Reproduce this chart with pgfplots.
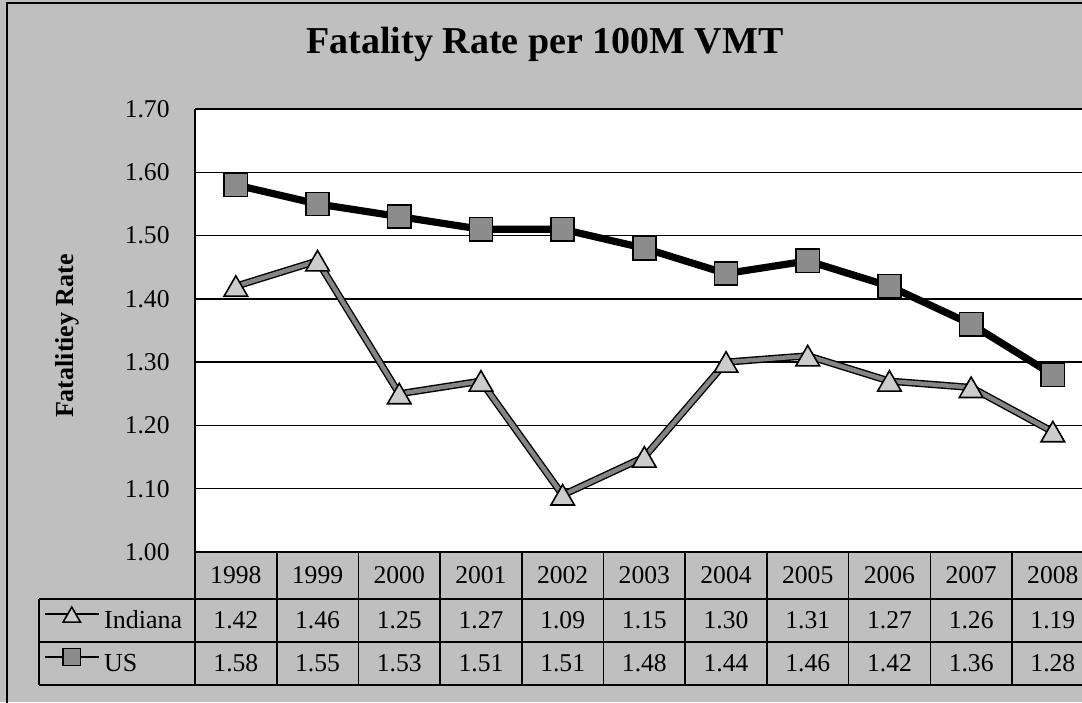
\documentclass[border=0pt]{standalone}
\usepackage{fontspec}
\setmainfont{Liberation Serif}
\usepackage{pgfplots}
\pgfplotsset{compat=1.18}
\usepackage{pgfplotstable}

\pgfplotstableread{
x year indiana us
0 1998 1.42 1.58
1 1999 1.46 1.55
2 2000 1.25 1.53
3 2001 1.27 1.51
4 2002 1.09 1.51
5 2003 1.15 1.48
6 2004 1.30 1.44
7 2005 1.31 1.46
8 2006 1.27 1.42
9 2007 1.26 1.36
10 2008 1.19 1.28
}\datatable

\definecolor{bg}{gray}{0.75}
\definecolor{sqfill}{gray}{0.55}
\definecolor{trifill}{gray}{0.80}
\definecolor{indline}{gray}{0.52}

\begin{document}
\begin{tikzpicture}[x=1pt,y=1pt]
\useasboundingbox (-97.5,-75) rectangle (443.5,276);
\fill[bg] (-97.5,-75) rectangle (443.5,276);
\draw[line width=0.8pt] (-94,-80) -- (-94,274.5) -- (450,274.5);
\begin{axis}[
  at={(0,0)}, anchor=south west,
  width=443.5pt, height=221.5pt, scale only axis,
  xmin=-0.5, xmax=10.357, ymin=1.0, ymax=1.7,
  ytick={1.00,1.10,1.20,1.30,1.40,1.50,1.60,1.70},
  /pgf/number format/fixed, /pgf/number format/fixed zerofill, /pgf/number format/precision=2,
  /pgf/number format/assume math mode=true,
  yticklabel style={inner sep=0pt, anchor=east, xshift=-12.5pt},
  xtick={0,1,2,3,4,5,6,7,8,9,10},
  xticklabels={1998,1999,2000,2001,2002,2003,2004,2005,2006,2007,2008},
  xticklabel style={anchor=center, inner sep=0pt, yshift=-11.75pt},
  tick label style={font=\fontsize{12.8}{14}\selectfont},
  major tick length=0pt,
  ymajorgrids, grid style={black, line width=0.7pt},
  axis x line*=bottom, axis y line*=left, axis line style={-, line width=0.8pt},
  axis background/.style={fill=white},
  clip=false,
  legend cell align=left,
  legend style={at={(axis description cs:-0.1714,-0.1061)}, anchor=north west,
    draw=none, fill=none, inner sep=0pt, column sep=2pt, row sep=0pt,
    font=\fontsize{13}{15}\selectfont,
    nodes={inner sep=0pt, minimum height=21.5pt}},
]
\addplot[forget plot, black, line width=3.6pt] table[x=x, y=indiana] {\datatable};
\addplot[indline, line width=2.2pt, mark=triangle*, mark size=6.8pt,
  mark options={draw=black, fill=trifill, line width=0.8pt, yshift=-1.6pt},
  legend image code/.code={\draw[black, line width=1.2pt, mark size=5pt, mark repeat=2, mark phase=2, yshift=3.5pt] plot coordinates {(0pt,0pt)(13.5pt,0pt)(27pt,0pt)};}]
  table[x=x, y=indiana] {\datatable};
\addplot[black, line width=3.6pt, mark=square*, mark size=5.8pt,
  mark options={draw=black, fill=sqfill, line width=0.8pt},
  legend image code/.code={\draw[black, line width=1.4pt, mark size=4.3pt, mark repeat=2, mark phase=2, yshift=3.5pt] plot coordinates {(0pt,0pt)(13.5pt,0pt)(27pt,0pt)};}]
  table[x=x, y=us] {\datatable};
\legend{Indiana, US}
\end{axis}
% data table grid
\begin{scope}[line width=0.8pt]
\draw (0,0) -- (450,0);
\draw (-78,-23.5) -- (450,-23.5);
\draw (-78,-45) -- (450,-45);
\draw (-78,-66.5) -- (450,-66.5);
\draw (-78,-23.5) -- (-78,-66.5);
\foreach \k in {0,...,10} { \draw (40.85*\k,0) -- (40.85*\k,-66.5); }
\end{scope}
\foreach \i/\a/\b in {0/1.42/1.58,1/1.46/1.55,2/1.25/1.53,3/1.27/1.51,4/1.09/1.51,5/1.15/1.48,6/1.30/1.44,7/1.31/1.46,8/1.27/1.42,9/1.26/1.36,10/1.19/1.28} {
  \node[font=\fontsize{12.8}{14}\selectfont, inner sep=0pt] at (40.85*\i+20.425,-34.25) {\a};
  \node[font=\fontsize{12.8}{14}\selectfont, inner sep=0pt] at (40.85*\i+20.425,-55.75) {\b};
}
\node[font=\bfseries\fontsize{19}{22}\selectfont, anchor=base] at (175,249) {Fatality Rate per 100M VMT};
\node[font=\bfseries\fontsize{13}{15}\selectfont, rotate=90] at (-64,108) {Fatalitiey Rate};
\end{tikzpicture}
\end{document}
